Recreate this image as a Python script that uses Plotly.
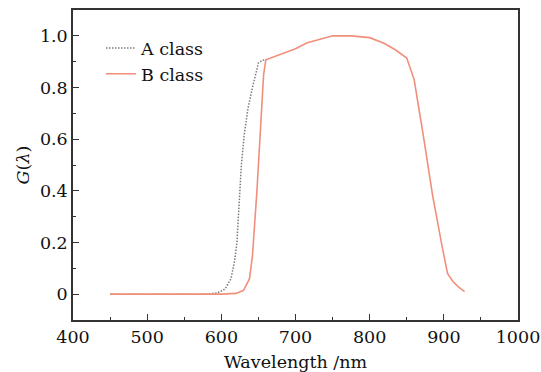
import plotly.graph_objects as go

# Data
wl_a = [450, 520, 580, 595, 605, 613, 618, 621, 624, 627, 631, 636, 642, 650, 655, 660]
g_a = [0, 0, 0, 0.005, 0.02, 0.06, 0.13, 0.2, 0.35, 0.5, 0.62, 0.72, 0.8, 0.895, 0.905, 0.907]

wl_b = [450, 500, 550, 600, 620, 630, 638, 642, 648, 653, 657, 660, 670, 685, 700, 715, 730,
        750, 775, 800, 820, 835, 850, 860, 872, 885, 898, 905, 912, 920, 928]
g_b = [0, 0, 0, 0, 0.003, 0.015, 0.06, 0.15, 0.4, 0.65, 0.85, 0.907, 0.918, 0.933, 0.95, 0.972, 0.985,
       1.0, 1.0, 0.993, 0.97, 0.945, 0.914, 0.83, 0.62, 0.38, 0.18, 0.08, 0.05, 0.027, 0.01]

x_ticks = [400, 500, 600, 700, 800, 900, 1000]
y_ticks = [0, 0.2, 0.4, 0.6, 0.8, 1.0]
y_ticktext = ["0", "0.2", "0.4", "0.6", "0.8", "1.0"]

FONT = "DejaVu Serif"
TXT = "#111111"
FS = 17.5

fig = go.Figure()
fig.add_trace(go.Scatter(x=wl_a, y=g_a, mode="lines", name="A class",
                         line=dict(color="#7a7a7a", width=1.5, dash="1.5px,1.5px")))
fig.add_trace(go.Scatter(x=wl_b, y=g_b, mode="lines", name="B class",
                         line=dict(color="#f0907c", width=1.6)))

axis_common = dict(
    showgrid=False, zeroline=False, showline=True, linecolor="#333333", linewidth=1.5,
    mirror=True, ticks="inside", tickcolor="#333333", tickwidth=1.2, ticklen=6,
    tickfont=dict(family=FONT, size=FS, color=TXT), automargin=False,
)

fig.update_xaxes(range=[400, 1000], tickvals=x_ticks, ticktext=[str(v) for v in x_ticks],
                 minor=dict(ticks="inside", ticklen=3.5, tickcolor="#333333", dtick=50, tick0=0),
                 title=dict(text="Wavelength /nm", font=dict(family=FONT, size=FS, color=TXT), standoff=17),
                 **axis_common)
fig.update_yaxes(range=[-0.1, 1.1], tickvals=y_ticks, ticktext=y_ticktext,
                 minor=dict(ticks="inside", ticklen=3.5, tickcolor="#333333", dtick=0.1, tick0=0),
                 title=dict(text="<i>G</i>(<i>λ</i>)", font=dict(family=FONT, size=FS, color=TXT), standoff=6),
                 **axis_common)

fig.update_layout(
    width=541, height=372,
    margin=dict(l=73, r=23, t=10, b=52),
    paper_bgcolor="white", plot_bgcolor="white",
    font=dict(family=FONT, size=FS, color=TXT),
    showlegend=True,
    legend=dict(x=0.063, y=0.935, xanchor="left", yanchor="top", bgcolor="rgba(0,0,0,0)",
                font=dict(family=FONT, size=FS, color=TXT), tracegroupgap=0, itemwidth=30),
)

fig.write_html("out.html")
